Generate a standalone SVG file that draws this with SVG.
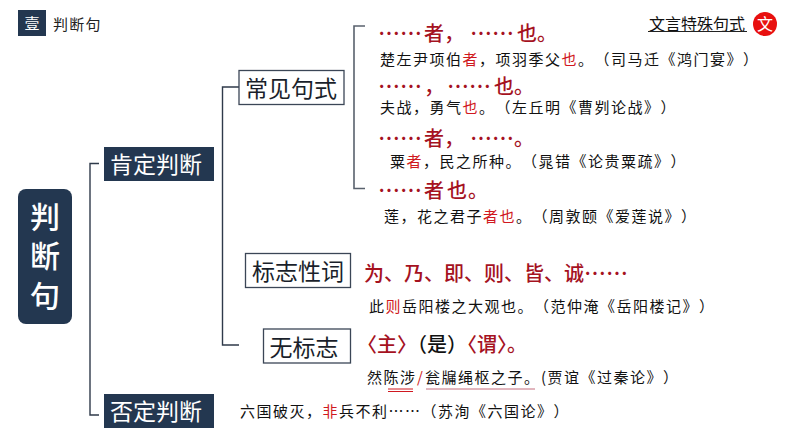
<svg xmlns="http://www.w3.org/2000/svg" width="794" height="447" viewBox="0 0 794 447">
<style>
text{font-family:"Noto Sans CJK SC","Noto Sans",sans-serif;text-spacing-trim:space-all}
.navy{fill:#233750}
.box{fill:#fff;stroke:#3b4656;stroke-width:1.3}
.wl{fill:#fff;font-size:23px}
.bl{fill:#1a1f2b;font-size:23px}
.conn{fill:none;stroke:#2f3a4a;stroke-width:1.4}
.h{fill:#a5121f;font-size:20px;font-weight:500}
.d{font-size:22px}
.b{fill:#111;font-size:15px;letter-spacing:1.500px}
.r{fill:#d01820}
.root{fill:#fff;font-size:30px;font-weight:500}
</style>
<rect width="794" height="447" fill="#fff"/>
<g id="connectors">
<path class="conn" d="M99 163.500H90V415H99"/>
<path class="conn" d="M239 87H222.500V345H239"/>
<path class="conn" style="stroke:#59616d;stroke-width:1.6" d="M365 26H354V188.500H365"/>
</g>
<g id="title">
<rect class="navy" x="18" y="10" width="28" height="26"/>
<text x="32" y="29" text-anchor="middle" fill="#fff" font-size="15">壹</text>
<text x="53" y="30" fill="#222" font-size="15" letter-spacing="1.200">判断句</text>
</g>
<g id="corner">
<text x="649" y="30" fill="#111" font-size="16">文言特殊句式</text>
<path d="M648 31.500H747" stroke="#222" stroke-width="1"/>
<circle cx="765" cy="24" r="12" fill="#e8100f"/>
<text x="765" y="30" text-anchor="middle" fill="#fff" font-size="16">文</text>
</g>
<g id="root">
<rect class="navy" x="18" y="189" width="54" height="135" rx="8"/>
<text class="root" x="45" y="228" text-anchor="middle">判</text>
<text class="root" x="45" y="267" text-anchor="middle">断</text>
<text class="root" x="45" y="307" text-anchor="middle">句</text>
</g>
<g id="n-affirm"><rect class="navy" x="104" y="147" width="110" height="34"/><text class="wl" x="156" y="173" text-anchor="middle">肯定判断</text></g>
<g id="n-negate"><rect class="navy" x="104" y="394" width="110" height="34"/><text class="wl" x="156" y="420" text-anchor="middle">否定判断</text></g>
<g id="n-common"><rect class="box" x="239" y="70.500" width="105" height="34"/><text class="bl" x="291" y="97" text-anchor="middle">常见句式</text></g>
<g id="n-marker"><rect class="box" x="245.500" y="253.500" width="105" height="34"/><text class="bl" x="298" y="280" text-anchor="middle">标志性词</text></g>
<g id="n-none"><rect class="box" x="263.500" y="329" width="87" height="34"/><text class="bl" x="304" y="355.500" text-anchor="middle">无标志</text></g>
<g id="p1">
<text class="h" y="41"><tspan class="d" x="378">……</tspan><tspan x="424">者</tspan><tspan x="444">，</tspan><tspan class="d" x="470">……</tspan><tspan x="517">也</tspan><tspan x="537">。</tspan></text>
<text class="b" x="380" y="65">楚左尹项伯<tspan class="r">者</tspan>，项羽季父<tspan class="r">也</tspan>。（司马迁《鸿门宴》）</text>
</g>
<g id="p2">
<text class="h" y="94"><tspan class="d" x="378">……</tspan><tspan x="424">，</tspan><tspan class="d" x="447">……</tspan><tspan x="494">也</tspan><tspan x="514">。</tspan></text>
<text class="b" x="380" y="113">夫战，勇气<tspan class="r">也</tspan>。（左丘明《曹刿论战》）</text>
</g>
<g id="p3">
<text class="h" y="146"><tspan class="d" x="378">……</tspan><tspan x="424">者</tspan><tspan x="444">，</tspan><tspan class="d" x="470">……</tspan><tspan x="514">。</tspan></text>
<text class="b" x="390" y="167">粟<tspan class="r">者</tspan>，民之所种。（晁错《论贵粟疏》）</text>
</g>
<g id="p4">
<text class="h" y="198"><tspan class="d" x="378">……</tspan><tspan x="424">者</tspan><tspan x="447">也</tspan><tspan x="468">。</tspan></text>
<text class="b" x="384" y="222">莲，花之君子<tspan class="r">者也</tspan>。（周敦颐《爱莲说》）</text>
</g>
<g id="p5">
<text class="h" x="364" y="281">为、乃、即、则、皆、诚<tspan class="d">……</tspan></text>
<text class="b" x="369" y="312">此<tspan class="r">则</tspan>岳阳楼之大观也。（范仲淹《岳阳楼记》）</text>
</g>
<g id="p6">
<text class="h" x="357" y="352" style="text-spacing-trim:normal">〈主〉<tspan fill="#111">（是）</tspan>〈谓〉。</text>
<text class="b" y="383"><tspan x="367">然陈涉</tspan><tspan class="r" x="417">/</tspan><tspan x="425">瓮牖绳枢之子。</tspan><tspan x="541">(贾谊《过秦论》）</tspan></text>
<path d="M388 389H413M388 391.500H413" stroke="#d01820" stroke-width="1" fill="none"/>
<path d="M426 389H535" stroke="#b5485a" stroke-width="0.800" fill="none"/>
</g>
<g id="p7">
<text class="b" x="240" y="417">六国破灭，<tspan class="r">非</tspan>兵不利……（苏洵《六国论》）</text>
</g>
</svg>
